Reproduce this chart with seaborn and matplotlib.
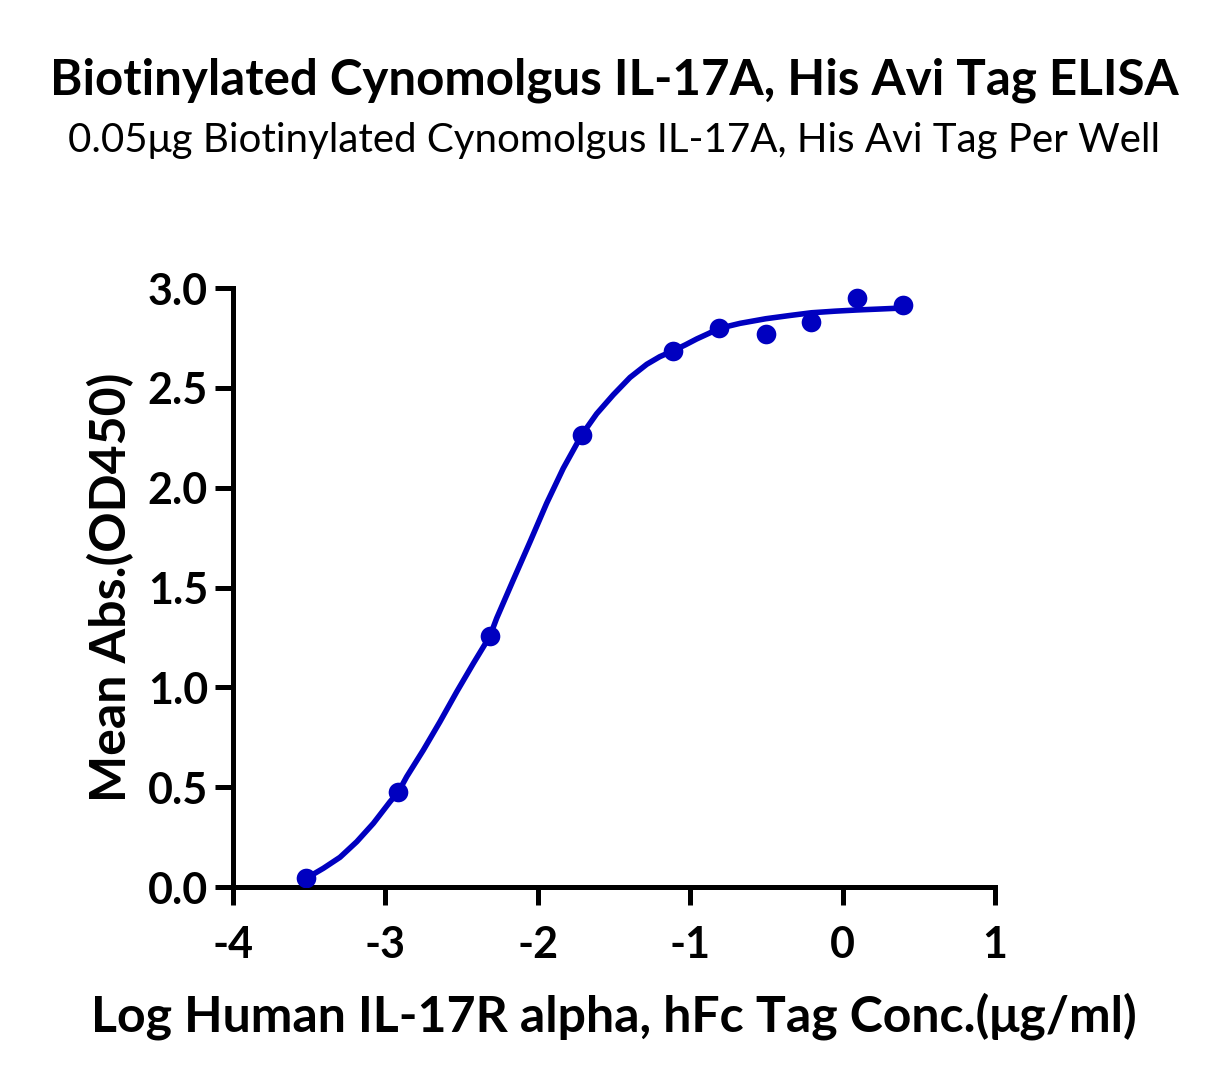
import matplotlib
matplotlib.use("Agg")
import matplotlib.pyplot as plt
import seaborn as sns
import pandas as pd

# measured points (log conc, mean OD450)
log_conc = [-3.52, -2.915, -2.314, -1.712, -1.111, -0.809, -0.505, -0.205, 0.096, 0.398]
mean_abs = [0.045, 0.476, 1.257, 2.264, 2.684, 2.80, 2.772, 2.83, 2.95, 2.913]

# fitted curve
curve_x = [-3.521, -3.407, -3.298, -3.188, -3.079, -2.970, -2.915, -2.860, -2.751,
           -2.642, -2.532, -2.423, -2.314, -2.270, -2.161, -2.051, -1.942, -1.833,
           -1.712, -1.614, -1.505, -1.395, -1.285, -1.200, -1.111, -1.030, -0.957,
           -0.880, -0.809, -0.673, -0.505, -0.350, -0.205, -0.050, 0.096, 0.250, 0.398]
curve_y = [0.043, 0.094, 0.149, 0.227, 0.319, 0.427, 0.476, 0.553, 0.686,
           0.828, 0.978, 1.120, 1.257, 1.346, 1.538, 1.729, 1.922, 2.097,
           2.264, 2.370, 2.465, 2.552, 2.618, 2.656, 2.686, 2.716, 2.745,
           2.772, 2.798, 2.823, 2.846, 2.862, 2.876, 2.884, 2.890, 2.895, 2.900]

x_ticks = [-4, -3, -2, -1, 0, 1]
y_ticks = [0.0, 0.5, 1.0, 1.5, 2.0, 2.5, 3.0]

title = "Biotinylated Cynomolgus IL-17A, His Avi Tag ELISA"
subtitle = "0.05μg Biotinylated Cynomolgus IL-17A, His Avi Tag Per Well"
xlabel = "Log Human IL-17R alpha, hFc Tag Conc.(μg/ml)"
ylabel = "Mean Abs.(OD450)"

sns.set_style("ticks")
plt.rcParams['font.family'] = ['Lato', 'DejaVu Sans']
plt.rcParams['text.color'] = 'black'
plt.rcParams['axes.labelcolor'] = 'black'
plt.rcParams['xtick.color'] = 'black'
plt.rcParams['ytick.color'] = 'black'
plt.rcParams['axes.edgecolor'] = 'black'

blue = "#0000c0"
pts = pd.DataFrame({'x': log_conc, 'y': mean_abs})
fit = pd.DataFrame({'x': curve_x, 'y': curve_y})

fig = plt.figure(figsize=(12.29, 10.86), dpi=100)
ax = fig.add_axes([0.1896, 0.1832, 0.62, 0.5516])

sns.lineplot(data=fit, x='x', y='y', ax=ax, color=blue, linewidth=4.0, sort=False)
sns.scatterplot(data=pts, x='x', y='y', ax=ax, color=blue, s=200, edgecolor=blue, linewidth=0, zorder=3)

ax.set_xlim(-4, 1)
ax.set_ylim(0, 3.0)
ax.set_xticks(x_ticks)
ax.set_xticklabels([str(t) for t in x_ticks])
ax.set_yticks(y_ticks)
ax.set_yticklabels([f"{t:.1f}" for t in y_ticks])
ax.tick_params(axis='both', direction='out', length=13, width=3.6, labelsize=31, pad=5)
ax.tick_params(axis='x', pad=14)
for lab in ax.get_xticklabels() + ax.get_yticklabels():
    lab.set_fontweight('bold')
sns.despine(ax=ax)
for side in ['left', 'bottom']:
    ax.spines[side].set_linewidth(3.6)

ax.set_xlabel(xlabel, fontsize=36, fontweight='bold', labelpad=20)
ax.set_ylabel(ylabel, fontsize=36, fontweight='bold', labelpad=10)

fig.text(0.5, 0.926, title, ha='center', va='center', fontsize=35.5, fontweight='bold')
fig.text(0.5, 0.871, subtitle, ha='center', va='center', fontsize=29)

fig.savefig("out.png", dpi=100)
